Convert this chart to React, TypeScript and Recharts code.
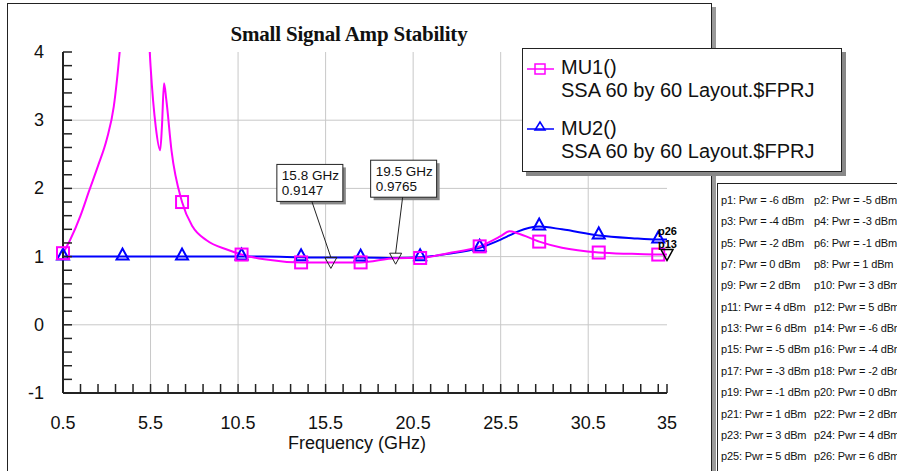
import React from 'react';
import { LineChart, Line, XAxis, YAxis, CartesianGrid, ReferenceDot } from 'recharts';

// frequency sweep (GHz) and stability factors
const freqGHz = [
  0.5, 0.9, 1.5, 2.0, 2.5, 3.0, 3.4, 3.9, 4.3, 4.7, 5.1,
  5.5, 5.8, 6.05, 6.15, 6.27, 6.4, 6.7, 7.3, 7.9, 8.7, 9.9, 10.7,
  12.0, 14.1, 15.8, 17.5, 19.5, 20.9, 22.5, 24.3, 25.5, 26.0, 26.5, 27.7,
  29.0, 31.1, 33.0, 34.5, 35.0,
];
const mu1 = [
  1.05, 1.24, 1.6, 1.97, 2.33, 2.72, 3.2, 4.5, 6.0, 8.0, 6.0,
  3.8, 2.9, 2.56, 2.9, 3.54, 3.3, 2.55, 1.8, 1.44, 1.24, 1.1, 1.03,
  0.96, 0.915, 0.915, 0.915, 0.977, 0.98, 1.05, 1.15, 1.3, 1.37, 1.34, 1.22,
  1.13, 1.06, 1.04, 1.03, 1.03,
];
const mu2 = [
  1.0, 1.0, 1.0, 1.0, 1.0, 1.0, 1.0, 1.0, 1.0, 1.0, 1.0,
  1.0, 1.0, 1.0, 1.0, 1.0, 1.0, 1.0, 1.0, 1.0, 1.0, 1.0, 1.0,
  1.0, 0.99, 0.985, 0.985, 0.98, 0.99, 1.04, 1.13, 1.25, 1.31, 1.37, 1.44,
  1.4, 1.31, 1.27, 1.25, 1.25,
];
// frequencies where the symbol markers sit
const symbolFreqs = [0.5, 3.9, 7.3, 10.7, 14.1, 17.5, 20.9, 24.3, 27.7, 31.1, 34.5];

// data markers
const markerFreqs = [15.8, 19.5];
const markerValues = [0.9147, 0.9765];

// power sweep list p1..p26
const pwrDbm = [-6, -5, -4, -3, -2, -1, 0, 1, 2, 3, 4, 5, 6, -6, -5, -4, -3, -2, -1, 0, 1, 2, 3, 4, 5, 6];

const xTicks = [
  0.5, 1.5, 2.5, 3.5, 4.5, 5.5, 6.5, 7.5, 8.5, 9.5, 10.5, 11.5, 12.5, 13.5, 14.5, 15.5, 16.5, 17.5,
  18.5, 19.5, 20.5, 21.5, 22.5, 23.5, 24.5, 25.5, 26.5, 27.5, 28.5, 29.5, 30.5, 31.5, 32.5, 33.5, 34.5, 35,
];
const xLabels = [0.5, 5.5, 10.5, 15.5, 20.5, 25.5, 30.5, 35];
const yTicks = [
  -1, -0.8, -0.6, -0.4, -0.2, 0, 0.2, 0.4, 0.6, 0.8, 1, 1.2, 1.4, 1.6, 1.8, 2, 2.2, 2.4, 2.6, 2.8,
  3, 3.2, 3.4, 3.6, 3.8, 4,
];
const yLabels = [-1, 0, 1, 2, 3, 4];
const gridX = [5.5, 10.5, 15.5, 20.5, 25.5, 30.5];
const gridY = [0, 1, 2, 3];

const MAGENTA = '#ff00ff';
const BLUE = '#0000ff';
const SANS = '"Liberation Sans", Arial, sans-serif';

const data = freqGHz.map((f, i) => ({ freq: f, mu1: mu1[i], mu2: mu2[i] }));

const YTick = (props: any) => {
  const { x, y, payload } = props;
  const v = payload.value;
  return (
    <g>
      <line x1={x} x2={x + 9} y1={y} y2={y} stroke="#222" strokeWidth={1.5} />
      {yLabels.includes(v) && (
        <text x={x - 19} y={y + 6} textAnchor="end" fontSize={18} fontFamily={SANS} fill="#111">
          {v}
        </text>
      )}
    </g>
  );
};

const XTick = (props: any) => {
  const { x, y, payload } = props;
  const v = payload.value;
  return (
    <g>
      <line x1={x} x2={x} y1={y} y2={y - 9} stroke="#222" strokeWidth={1.5} />
      {xLabels.includes(v) && (
        <text x={x} y={y + 36} textAnchor="middle" fontSize={18} fontFamily={SANS} fill="#111">
          {v}
        </text>
      )}
    </g>
  );
};

const squareDot = (props: any) => {
  const { cx, cy, payload, index } = props;
  if (!symbolFreqs.includes(payload.freq) || payload.mu1 > 4) return <g key={`s${index}`} />;
  return (
    <rect key={`s${index}`} x={cx - 6} y={cy - 6} width={12} height={12} fill="none" stroke={MAGENTA} strokeWidth={2} />
  );
};

const triangleDot = (props: any) => {
  const { cx, cy, payload, index } = props;
  if (!symbolFreqs.includes(payload.freq)) return <g key={`t${index}`} />;
  return (
    <polygon
      key={`t${index}`}
      points={`${cx},${cy - 8} ${cx - 6},${cy + 3} ${cx + 6},${cy + 3}`}
      fill="none"
      stroke={BLUE}
      strokeWidth={2}
    />
  );
};

// marker box offsets relative to its point
const boxDx = [-54, -25];
const leadDx = [-19, 7];

const markerShape = (i: number) => (props: any) => {
  const { cx, cy } = props;
  const bx = cx + boxDx[i];
  const by = cy - 98;
  return (
    <g>
      <rect x={bx + 3} y={by + 3} width={66} height={37} fill="#888" />
      <rect x={bx} y={by} width={66} height={37} fill="#fff" stroke="#222" strokeWidth={1} />
      <text x={bx + 5} y={by + 16} fontSize={13.5} fontFamily={SANS} fill="#111">
        {markerFreqs[i]} GHz
      </text>
      <text x={bx + 5} y={by + 31} fontSize={13.5} fontFamily={SANS} fill="#111">
        {markerValues[i]}
      </text>
      <line x1={cx + leadDx[i]} y1={by + 37} x2={cx} y2={cy - 5} stroke="#222" strokeWidth={1} />
      <polygon points={`${cx - 6},${cy - 5} ${cx + 6},${cy - 5} ${cx},${cy + 6}`} fill="none" stroke="#222" strokeWidth={1} />
    </g>
  );
};

const sweepEndShape = (props: any) => {
  const { cx, cy } = props;
  return (
    <g fontFamily={SANS} fontWeight="bold" fontSize={11} fill="#000">
      <text x={cx - 9} y={cy - 20}>p26</text>
      <text x={cx - 9} y={cy - 7}>p13</text>
      <polygon points={`${cx - 6},${cy - 5} ${cx + 6},${cy - 5} ${cx},${cy + 6}`} fill="none" stroke="#000" strokeWidth={1.5} />
    </g>
  );
};

export default function App() {
  return (
    <div style={{ position: 'absolute', left: 0, top: 0, width: 897, height: 471, overflow: 'hidden', background: '#fff' }}>
      {/* outer graph frame */}
      <div
        style={{
          position: 'absolute', left: 7, top: 3, width: 703, height: 520,
          border: '1px solid #222', boxShadow: '4px 4px 0 #999', background: '#fff',
        }}
      />
      <div
        style={{
          position: 'absolute', left: 0, top: 22, width: 698, textAlign: 'center',
          fontFamily: '"Liberation Serif", "Times New Roman", serif', fontWeight: 'bold', fontSize: 21, color: '#111',
          letterSpacing: -0.2,
        }}
      >
        Small Signal Amp Stability
      </div>
      <div style={{ position: 'absolute', left: 0, top: 0 }}>
        <LineChart width={897} height={471} data={data} margin={{ top: 52, right: 230, bottom: 48, left: 23 }}>
          <CartesianGrid stroke="#c8c8c8" verticalValues={gridX} horizontalValues={gridY} />
          <XAxis
            dataKey="freq"
            type="number"
            domain={[0.5, 35]}
            ticks={xTicks}
            interval={0}
            tickSize={0}
            tickMargin={0}
            tickLine={false}
            tick={<XTick />}
            height={30}
            axisLine={{ stroke: '#222', strokeWidth: 2 }}
            label={{
              content: (p: any) => (
                <text
                  x={p.viewBox.x + p.viewBox.width / 2 - 8}
                  y={449}
                  textAnchor="middle"
                  fontSize={18}
                  fontFamily={SANS}
                  fill="#111"
                >
                  Frequency (GHz)
                </text>
              ),
            }}
          />
          <XAxis xAxisId="top" orientation="top" type="number" domain={[0.5, 35]} height={0} tick={false} tickLine={false} axisLine={{ stroke: '#444', strokeWidth: 2 }} />
          <YAxis
            type="number"
            domain={[-1, 4]}
            ticks={yTicks}
            interval={0}
            allowDataOverflow
            tickSize={0}
            tickMargin={0}
            tickLine={false}
            tick={<YTick />}
            width={40}
            axisLine={{ stroke: '#222', strokeWidth: 2 }}
          />
          <YAxis yAxisId="right" orientation="right" type="number" domain={[-1, 4]} width={0} tick={false} tickLine={false} axisLine={{ stroke: '#000', strokeWidth: 1 }} />
          <Line
            type="monotone"
            dataKey="mu2"
            stroke={BLUE}
            strokeWidth={2}
            dot={triangleDot}
            activeDot={false}
            isAnimationActive={false}
          />
          <Line
            type="monotone"
            dataKey="mu1"
            stroke={MAGENTA}
            strokeWidth={2}
            dot={squareDot}
            activeDot={false}
            isAnimationActive={false}
          />
          {markerFreqs.map((f, i) => (
            <ReferenceDot key={f} x={f} y={markerValues[i]} shape={markerShape(i)} />
          ))}
          <ReferenceDot x={35} y={mu1[mu1.length - 1]} shape={sweepEndShape} />
        </LineChart>
      </div>
      {/* legend */}
      <div
        style={{
          position: 'absolute', left: 522, top: 48, width: 318, height: 122,
          border: '1px solid #222', boxShadow: '4px 4px 0 #888', background: '#fff',
          fontFamily: SANS, fontSize: 20, color: '#111',
        }}
      >
        <svg style={{ position: 'absolute', left: 4, top: 10 }} width={30} height={20}>
          <line x1={0} x2={27} y1={10} y2={10} stroke={MAGENTA} strokeWidth={1.5} />
          <rect x={8} y={5} width={10} height={10} fill="none" stroke={MAGENTA} strokeWidth={1.5} />
        </svg>
        <div style={{ position: 'absolute', left: 38, top: 7, lineHeight: '23px', whiteSpace: 'nowrap' }}>
          MU1()
          <br />
          SSA 60 by 60 Layout.$FPRJ
        </div>
        <svg style={{ position: 'absolute', left: 4, top: 70 }} width={30} height={20}>
          <line x1={0} x2={27} y1={10} y2={10} stroke={BLUE} strokeWidth={1.5} />
          <polygon points="13,3 8,11 18,11" fill="none" stroke={BLUE} strokeWidth={1.5} />
        </svg>
        <div style={{ position: 'absolute', left: 38, top: 68, lineHeight: '23px', whiteSpace: 'nowrap' }}>
          MU2()
          <br />
          SSA 60 by 60 Layout.$FPRJ
        </div>
      </div>
      {/* sweep list */}
      <div
        style={{
          position: 'absolute', left: 717, top: 183, width: 200, height: 300,
          borderLeft: '1px solid #222', borderTop: '1px solid #222', background: '#fff',
          fontFamily: SANS, fontSize: 11, letterSpacing: -0.15, color: '#111',
        }}
      >
        {pwrDbm.map((p, i) => (
          <div
            key={i}
            style={{
              position: 'absolute', whiteSpace: 'nowrap',
              left: i % 2 === 0 ? 3 : 96,
              top: 10 + Math.floor(i / 2) * 21.35,
            }}
          >
            p{i + 1}: Pwr = {p} dBm
          </div>
        ))}
      </div>
    </div>
  );
}
